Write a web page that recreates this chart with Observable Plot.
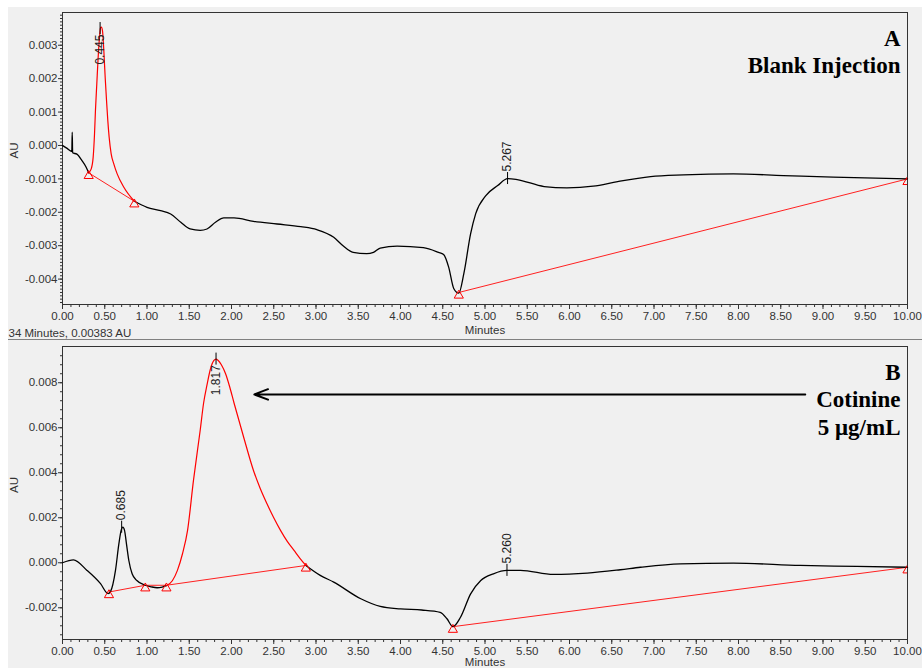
<!DOCTYPE html>
<html><head><meta charset="utf-8">
<script src="https://cdn.jsdelivr.net/npm/d3@7"></script>
<script src="https://cdn.jsdelivr.net/npm/@observablehq/plot@0.6"></script>
<style>
body{margin:0;background:#fff;}
#root{position:relative;width:922px;height:668px;overflow:hidden;font-family:Arial,"Liberation Sans",sans-serif;}
#bg{position:absolute;left:8px;top:7px;right:0;bottom:0;background:#f0f0f0;}
#sep{position:absolute;left:8px;right:0;top:339px;height:1px;background:#808080;}
#pa{position:absolute;left:0;top:0;}
#pb{position:absolute;left:0;top:340px;}
</style></head>
<body><div id="root"><div id="bg"></div><div id="pa"></div><div id="sep"></div><div id="pb"></div></div>
<script>
// ---------- axis ticks ----------
const xTicks = [0,0.5,1,1.5,2,2.5,3,3.5,4,4.5,5,5.5,6,6.5,7,7.5,8,8.5,9,9.5,10];
const yTicksA = [-0.004,-0.003,-0.002,-0.001,0,0.001,0.002,0.003];
const yTicksB = [-0.002,0,0.002,0.004,0.006,0.008];

// ---------- Panel A : Blank injection ----------
const aBlack1T = [0,0.05,0.11,0.115,0.12,0.17,0.23,0.28,0.31];
const aBlack1V = [0,-0.00008,-0.00018,0.0004,-0.00022,-0.00026,-0.00045,-0.00065,-0.00082];
const aRedT = [0.31,0.34,0.363,0.379,0.39,0.406,0.422,0.438,0.45,0.46,0.473,0.489,0.505,0.521,0.536,0.552,0.576,0.607,0.647,0.726,0.85];
const aRedV = [-0.00082,-0.0007,-0.00035,0.00035,0.00105,0.00185,0.00264,0.00324,0.00352,0.00354,0.00344,0.00284,0.00204,0.00135,0.00075,0.00025,-0.00025,-0.00055,-0.00085,-0.00125,-0.00167];
const aBlack2T = [0.85,1.0,1.16,1.28,1.40,1.51,1.63,1.71,1.81,1.91,2.03,2.26,2.54,2.82,3.01,3.21,3.32,3.44,3.6,3.68,3.76,3.96,4.27,4.45,4.51,4.57,4.63,4.69,4.75,4.83,4.89,5.01,5.15,5.267,5.38,5.7,5.97,6.28,6.57,6.96,7.35,7.94,8.53,9.12,10.0];
const aBlack2V = [-0.00167,-0.00185,-0.00195,-0.00205,-0.0023,-0.0025,-0.00254,-0.0025,-0.0023,-0.00217,-0.00217,-0.00227,-0.00235,-0.00243,-0.00252,-0.00275,-0.003,-0.0032,-0.00324,-0.0032,-0.00307,-0.00301,-0.00306,-0.0032,-0.00326,-0.00364,-0.00428,-0.00442,-0.00383,-0.00264,-0.00204,-0.0015,-0.0012,-0.00099,-0.00102,-0.00123,-0.00127,-0.00122,-0.00108,-0.00093,-0.00088,-0.00085,-0.0009,-0.00095,-0.001];
const aBase1T = [0.31,0.85], aBase1V = [-0.00082,-0.00167];
const aBase2T = [4.69,10.0], aBase2V = [-0.0044,-0.001];
const aLabelT = [0.445,5.267], aLabelV = [0.0035,-0.00099], aLabelText = ["0.445","5.267"], aLabelInside = [true,false];

// ---------- Panel B : Cotinine 5 µg/mL ----------
const bBlack1T = [0,0.13,0.29,0.45,0.54,0.568,0.627,0.667,0.694,0.714,0.734,0.757,0.785,0.824,0.88,0.98,1.05,1.12,1.18,1.23];
const bBlack1V = [0,0.00013,-0.00034,-0.00093,-0.00137,-0.00128,-0.00034,0.00084,0.00144,0.00158,0.00144,0.00084,0.0001,-0.00049,-0.00079,-0.001,-0.00107,-0.00111,-0.00108,-0.00102];
const bRedT = [1.23,1.30,1.36,1.42,1.48,1.55,1.63,1.67,1.71,1.75,1.79,1.817,1.84,1.88,1.93,1.98,2.03,2.09,2.15,2.26,2.34,2.42,2.50,2.58,2.66,2.74,2.81,2.88];
const bRedV = [-0.00102,-0.0008,-0.00034,0.0004,0.00144,0.00366,0.0059,0.0071,0.0079,0.0086,0.00898,0.00905,0.009,0.0088,0.0084,0.0078,0.0071,0.0063,0.0055,0.0041,0.0033,0.00262,0.002,0.00144,0.00095,0.00055,0.0002,-0.00012];
const bBlack2T = [2.88,3.05,3.21,3.53,3.76,4.0,4.25,4.47,4.55,4.62,4.71,4.83,4.95,5.1,5.26,5.42,5.81,6.21,6.6,6.84,7.31,7.94,8.73,9.4,10.0];
const bBlack2V = [-0.00012,-0.00056,-0.00086,-0.0016,-0.00194,-0.00205,-0.0021,-0.0022,-0.00249,-0.00284,-0.00242,-0.00138,-0.00079,-0.00049,-0.00034,-0.00034,-0.00052,-0.00046,-0.00031,-0.0002,-0.00005,-0.00002,-0.00012,-0.00016,-0.0002];
const bBase1T = [0.55,0.98,1.23,2.88], bBase1V = [-0.0013,-0.001,-0.001,-0.00012];
const bBase2T = [4.62,10.0], bBase2V = [-0.00284,-0.0002];
const bLabelT = [0.70,1.817,5.26], bLabelV = [0.00158,0.00905,-0.00034], bLabelText = ["0.685","1.817","5.260"], bLabelInside = [false,true,false];
const bArrowX = [8.79,2.27], bArrowY = [0.00748,0.00748];

const titleA = "A\nBlank Injection";
const titleB = "B\nCotinine\n5 μg/mL";

// ---------- helpers ----------
const rows = (T, V) => T.map((t, i) => ({t, v: V[i]}));
const labelRows = (T, V, L, I) => T.map((t, i) => ({t, v: V[i], label: L[i], inside: I[i]}));
const minorX = d3.range(0, 10.0001, 0.1);

function panel(o) {
  const black = o.black.map(s => Plot.line(s, {x: "t", y: "v", stroke: "#000", strokeWidth: 1.3, curve: "monotone-x"}));
  const red = o.red.map(s => Plot.line(s, {x: "t", y: "v", stroke: "#ff0000", strokeWidth: 1.2, curve: "monotone-x"}));
  const bases = o.bases.map(s => Plot.line(s, {x: "t", y: "v", stroke: "#ff2020", strokeWidth: 1}));
  const tri = o.bases.flatMap(s => s);
  const labs = o.labels;
  return Plot.plot({
    width: 922, height: o.height,
    marginLeft: 62, marginRight: 15, marginTop: o.mt, marginBottom: o.mb,
    style: {background: "transparent", fontFamily: "Arial, 'Liberation Sans', sans-serif", fontSize: "11.5px", color: "#333"},
    x: {domain: [0, 10], label: null},
    y: {domain: o.yDomain, label: null},
    marks: [
      Plot.axisX({ticks: minorX, tickSize: 3, text: null, label: null, stroke: "#333"}),
      Plot.axisX({ticks: xTicks, tickSize: 5, tickPadding: 2, tickFormat: d => d.toFixed(2), label: null, stroke: "#333", fill: "#333"}),
      Plot.axisY({ticks: o.yMinor, tickSize: 2, text: null, label: null, stroke: "#333"}),
      Plot.axisY({ticks: o.yTicks, tickSize: 4, tickPadding: 1, tickFormat: d => d.toFixed(3), label: null, stroke: "#333", fill: "#333"}),
      Plot.frame({stroke: "#333"}),
      ...bases,
      ...black,
      ...red,
      Plot.dot(tri, {x: "t", y: "v", symbol: "triangle", r: 3.4, stroke: "#ff0000", fill: "none", strokeWidth: 1, dy: 3, clip: true}),
      Plot.ruleX(labs, {x: "t", y1: "v", y2: "v", insetTop: -6, insetBottom: -6, stroke: "#000", strokeWidth: 1}),
      Plot.text(labs.filter(d => !d.inside), {x: "t", y: "v", text: "label", rotate: -90, textAnchor: "start", lineAnchor: "middle", dy: -7, fontSize: 12, fill: "#222"}),
      Plot.text(labs.filter(d => d.inside), {x: "t", y: "v", text: "label", rotate: -90, textAnchor: "end", lineAnchor: "middle", dy: 6, fontSize: 12, fill: "#222"}),
      ...(o.arrow ? [Plot.arrow([o.arrow], {x1: "x1", x2: "x2", y1: "y1", y2: "y2", stroke: "#000", strokeWidth: 2, headLength: 11, headAngle: 42})] : []),
      Plot.text(["AU"], {text: d => d, frameAnchor: "left", dx: -48, rotate: -90, fontSize: 11.5, fill: "#333"}),
      Plot.text(["Minutes"], {text: d => d, frameAnchor: "bottom", dy: o.minDy, lineAnchor: "middle", fontSize: 11.5, fill: "#333"}),
      ...(o.readout ? [Plot.text([o.readout], {text: d => d, frameAnchor: "bottom-left", textAnchor: "start", lineAnchor: "bottom", dx: -54, dy: 32, fontSize: 11.5, fill: "#333"})] : []),
      Plot.text([o.title], {text: d => d, frameAnchor: "top-right", textAnchor: "end", lineAnchor: "top", dx: -7, dy: 13.5,
        fontFamily: "'Liberation Serif', 'Times New Roman', serif", fontWeight: "bold", fontSize: 23, lineHeight: 1.2, fill: "#000"})
    ]
  });
}

document.getElementById("pa").appendChild(panel({
  height: 340, mt: 12, mb: 36, minDy: 26,
  yDomain: [-0.00476, 0.00398],
  yTicks: yTicksA, yMinor: d3.range(-0.0047, 0.00395, 0.0001),
  black: [rows(aBlack1T, aBlack1V), rows(aBlack2T, aBlack2V)],
  red: [rows(aRedT, aRedV)],
  bases: [rows(aBase1T, aBase1V), rows(aBase2T, aBase2V)],
  labels: labelRows(aLabelT, aLabelV, aLabelText, aLabelInside),
  readout: "34 Minutes, 0.00383 AU",
  title: titleA
}));

document.getElementById("pb").appendChild(panel({
  height: 328, mt: 6, mb: 29, minDy: 23,
  yDomain: [-0.00341, 0.00961],
  yTicks: yTicksB, yMinor: d3.range(-0.0032, 0.0096, 0.0004),
  black: [rows(bBlack1T, bBlack1V), rows(bBlack2T, bBlack2V)],
  red: [rows(bRedT, bRedV)],
  bases: [rows(bBase1T, bBase1V), rows(bBase2T, bBase2V)],
  labels: labelRows(bLabelT, bLabelV, bLabelText, bLabelInside),
  arrow: {x1: bArrowX[0], x2: bArrowX[1], y1: bArrowY[0], y2: bArrowY[1]},
  title: titleB
}));
</script></body></html>
